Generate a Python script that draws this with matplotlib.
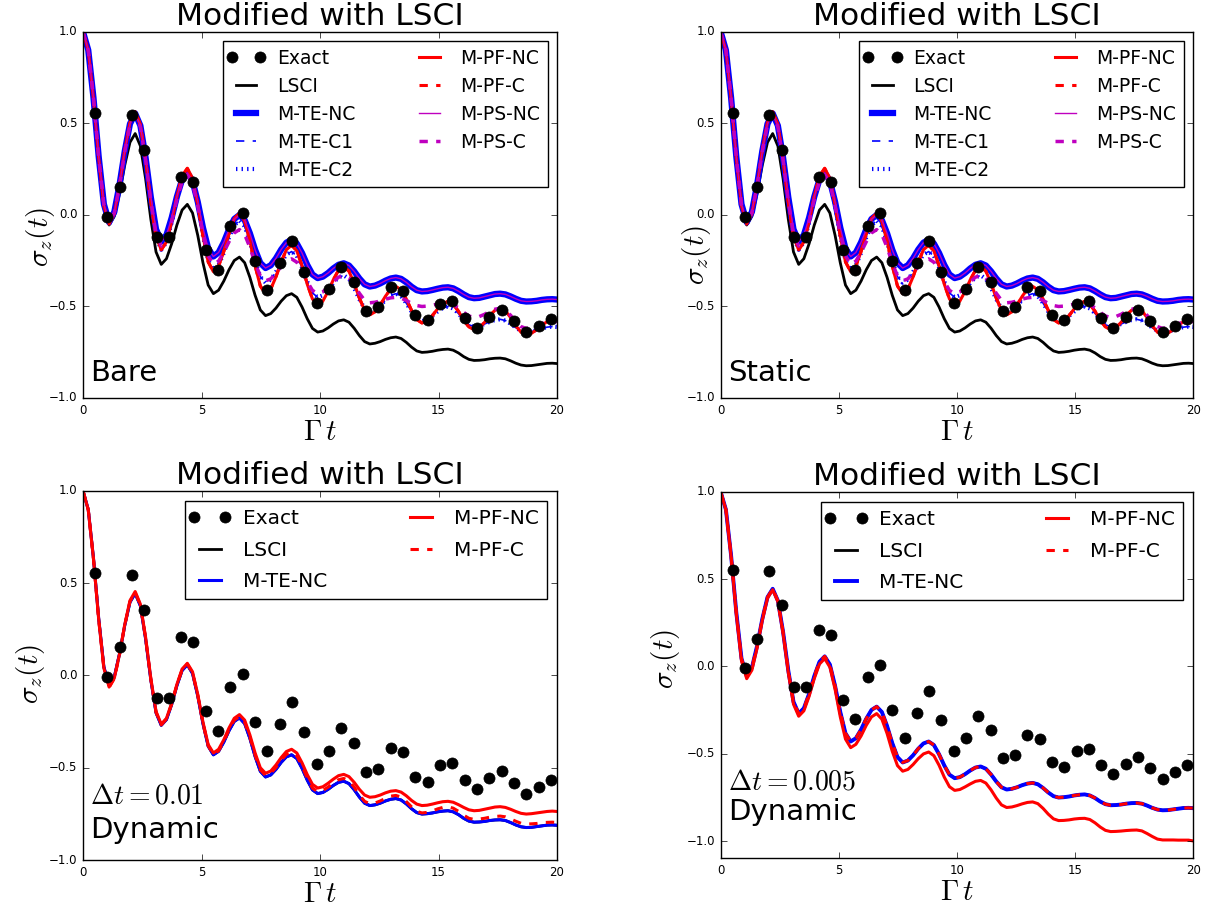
import numpy as np
import matplotlib
matplotlib.use("Agg")
import matplotlib.pyplot as plt
from matplotlib.lines import Line2D
from matplotlib.legend_handler import HandlerLine2D

# ================= DATA ================= #
# sampling grid of the curves (Gamma t)
t_grid = np.append(np.arange(91) * 0.22, 20.0)

# exact points
t_exact = [0.50, 1.02, 1.54, 2.06, 2.58, 3.10, 3.62, 4.14, 4.66, 5.18,
           5.70, 6.22, 6.74, 7.26, 7.78, 8.30, 8.82, 9.34, 9.86, 10.38,
           10.90, 11.42, 11.94, 12.46, 12.98, 13.50, 14.02, 14.54, 15.06, 15.58,
           16.10, 16.62, 17.14, 17.66, 18.18, 18.70, 19.22, 19.74]
exact = [0.555, -0.010, 0.155, 0.545, 0.355, -0.120, -0.120, 0.210, 0.180, -0.190,
         -0.300, -0.060, 0.010, -0.250, -0.410, -0.264, -0.142, -0.309, -0.482, -0.407,
         -0.282, -0.366, -0.525, -0.505, -0.393, -0.416, -0.549, -0.576, -0.487, -0.472,
         -0.565, -0.616, -0.556, -0.520, -0.582, -0.642, -0.607, -0.567]

lsci = [1.0, 0.899, 0.636, 0.310, 0.046, -0.055,
        -0.007, 0.118, 0.272, 0.397, 0.445,
        0.377, 0.198, -0.023, -0.202, -0.270,
        -0.239, -0.157, -0.055, 0.027, 0.058,
        0.011, -0.111, -0.261, -0.383, -0.430,
        -0.411, -0.361, -0.299, -0.249, -0.230,
        -0.261, -0.341, -0.439, -0.519, -0.550,
        -0.539, -0.509, -0.471, -0.441, -0.430,
        -0.450, -0.503, -0.567, -0.620, -0.640,
        -0.634, -0.617, -0.596, -0.579, -0.573,
        -0.586, -0.619, -0.659, -0.692, -0.705,
        -0.701, -0.692, -0.680, -0.671, -0.667,
        -0.675, -0.696, -0.722, -0.743, -0.751,
        -0.749, -0.745, -0.739, -0.735, -0.733,
        -0.739, -0.754, -0.774, -0.789, -0.795,
        -0.794, -0.791, -0.786, -0.783, -0.782,
        -0.786, -0.797, -0.810, -0.820, -0.824,
        -0.823, -0.819, -0.815, -0.811, -0.810,
        -0.812]

# Bare / Static panels
te_nc = [1.0, 0.901, 0.641, 0.319, 0.059, -0.040,
         0.017, 0.166, 0.349, 0.498, 0.555,
         0.488, 0.313, 0.097, -0.078, -0.145,
         -0.109, -0.015, 0.100, 0.194, 0.230,
         0.186, 0.072, -0.069, -0.183, -0.227,
         -0.205, -0.149, -0.078, -0.022, 0.000,
         -0.028, -0.100, -0.190, -0.262, -0.290,
         -0.275, -0.237, -0.189, -0.151, -0.136,
         -0.156, -0.208, -0.273, -0.325, -0.345,
         -0.337, -0.317, -0.292, -0.272, -0.264,
         -0.276, -0.308, -0.347, -0.379, -0.391,
         -0.386, -0.374, -0.359, -0.347, -0.342,
         -0.349, -0.368, -0.392, -0.411, -0.418,
         -0.416, -0.410, -0.403, -0.397, -0.395,
         -0.401, -0.416, -0.434, -0.449, -0.455,
         -0.453, -0.446, -0.439, -0.432, -0.430,
         -0.434, -0.445, -0.458, -0.469, -0.473,
         -0.472, -0.469, -0.464, -0.461, -0.460,
         -0.462]

pf_nc = [1.0, 0.900, 0.637, 0.313, 0.050, -0.050,
         0.009, 0.162, 0.353, 0.506, 0.565,
         0.493, 0.304, 0.071, -0.118, -0.190,
         -0.148, -0.036, 0.101, 0.213, 0.255,
         0.201, 0.060, -0.115, -0.256, -0.310,
         -0.279, -0.199, -0.101, -0.021, 0.010,
         -0.032, -0.142, -0.278, -0.388, -0.430,
         -0.405, -0.338, -0.257, -0.190, -0.165,
         -0.196, -0.277, -0.378, -0.459, -0.490,
         -0.470, -0.418, -0.354, -0.302, -0.282,
         -0.307, -0.373, -0.454, -0.520, -0.545,
         -0.530, -0.491, -0.444, -0.405, -0.390,
         -0.409, -0.459, -0.521, -0.571, -0.590,
         -0.579, -0.550, -0.513, -0.484, -0.473,
         -0.488, -0.526, -0.574, -0.612, -0.627,
         -0.616, -0.587, -0.550, -0.521, -0.510,
         -0.524, -0.560, -0.605, -0.641, -0.655,
         -0.647, -0.627, -0.603, -0.583, -0.575,
         -0.576]

te_c = [1.0, 0.900, 0.637, 0.313, 0.050, -0.050,
        0.008, 0.161, 0.349, 0.502, 0.560,
        0.488, 0.301, 0.069, -0.118, -0.190,
        -0.149, -0.041, 0.091, 0.199, 0.240,
        0.188, 0.053, -0.113, -0.248, -0.300,
        -0.274, -0.207, -0.123, -0.056, -0.030,
        -0.062, -0.147, -0.252, -0.337, -0.370,
        -0.354, -0.311, -0.259, -0.216, -0.200,
        -0.224, -0.286, -0.364, -0.426, -0.450,
        -0.439, -0.409, -0.371, -0.341, -0.330,
        -0.349, -0.399, -0.461, -0.511, -0.530,
        -0.520, -0.495, -0.465, -0.440, -0.430,
        -0.444, -0.482, -0.528, -0.566, -0.580,
        -0.572, -0.552, -0.528, -0.508, -0.500,
        -0.511, -0.538, -0.572, -0.600, -0.610,
        -0.606, -0.596, -0.584, -0.574, -0.570,
        -0.577, -0.594, -0.616, -0.633, -0.640,
        -0.637, -0.630, -0.620, -0.613, -0.610,
        -0.612]

ps_c = [1.0, 0.900, 0.639, 0.316, 0.055, -0.045,
        0.012, 0.161, 0.344, 0.493, 0.550,
        0.481, 0.301, 0.079, -0.101, -0.170,
        -0.133, -0.035, 0.085, 0.183, 0.220,
        0.173, 0.051, -0.101, -0.223, -0.270,
        -0.252, -0.204, -0.146, -0.098, -0.080,
        -0.107, -0.177, -0.263, -0.333, -0.360,
        -0.349, -0.319, -0.281, -0.251, -0.240,
        -0.258, -0.306, -0.364, -0.412, -0.430,
        -0.420, -0.395, -0.365, -0.340, -0.330,
        -0.344, -0.382, -0.428, -0.466, -0.480,
        -0.477, -0.470, -0.460, -0.453, -0.450,
        -0.455, -0.467, -0.483, -0.495, -0.500,
        -0.498, -0.493, -0.487, -0.482, -0.480,
        -0.488, -0.508, -0.532, -0.552, -0.560,
        -0.555, -0.543, -0.527, -0.515, -0.510,
        -0.521, -0.548, -0.582, -0.610, -0.620,
        -0.616, -0.606, -0.594, -0.584, -0.580,
        -0.583]

# Dynamic, dt = 0.01
pf_nc_dt01 = [1.0, 0.898, 0.633, 0.304, 0.039, -0.063,
              -0.014, 0.116, 0.276, 0.406, 0.455,
              0.386, 0.207, -0.016, -0.195, -0.264,
              -0.232, -0.150, -0.048, 0.035, 0.066,
              0.020, -0.102, -0.252, -0.374, -0.420,
              -0.400, -0.348, -0.284, -0.232, -0.212,
              -0.242, -0.322, -0.420, -0.500, -0.530,
              -0.518, -0.485, -0.445, -0.412, -0.400,
              -0.420, -0.473, -0.537, -0.590, -0.610,
              -0.603, -0.584, -0.562, -0.543, -0.536,
              -0.548, -0.579, -0.617, -0.648, -0.660,
              -0.657, -0.648, -0.636, -0.627, -0.624,
              -0.632, -0.652, -0.677, -0.697, -0.705,
              -0.703, -0.697, -0.690, -0.684, -0.682,
              -0.687, -0.700, -0.715, -0.728, -0.733,
              -0.731, -0.725, -0.719, -0.713, -0.711,
              -0.715, -0.725, -0.737, -0.747, -0.751,
              -0.749, -0.745, -0.741, -0.737, -0.735,
              -0.737]

pf_c_dt01 = [1.0, 0.898, 0.632, 0.303, 0.037, -0.065,
             -0.016, 0.113, 0.272, 0.401, 0.450,
             0.381, 0.202, -0.020, -0.199, -0.268,
             -0.236, -0.154, -0.052, 0.031, 0.062,
             0.015, -0.107, -0.259, -0.381, -0.428,
             -0.408, -0.357, -0.293, -0.242, -0.222,
             -0.253, -0.333, -0.431, -0.511, -0.542,
             -0.530, -0.498, -0.459, -0.427, -0.415,
             -0.436, -0.489, -0.556, -0.610, -0.630,
             -0.623, -0.605, -0.583, -0.565, -0.558,
             -0.571, -0.605, -0.648, -0.682, -0.695,
             -0.691, -0.680, -0.666, -0.654, -0.650,
             -0.659, -0.683, -0.712, -0.736, -0.745,
             -0.742, -0.734, -0.723, -0.715, -0.712,
             -0.719, -0.736, -0.757, -0.774, -0.780,
             -0.778, -0.774, -0.768, -0.764, -0.762,
             -0.766, -0.777, -0.790, -0.801, -0.805,
             -0.804, -0.802, -0.798, -0.796, -0.795,
             -0.797]

# Dynamic, dt = 0.005
pf_nc_dt005 = [1.0, 0.898, 0.630, 0.300, 0.032, -0.070,
               -0.021, 0.106, 0.264, 0.391, 0.440,
               0.371, 0.190, -0.035, -0.216, -0.285,
               -0.254, -0.171, -0.069, 0.014, 0.045,
               -0.004, -0.131, -0.289, -0.416, -0.465,
               -0.446, -0.398, -0.337, -0.289, -0.270,
               -0.302, -0.384, -0.486, -0.568, -0.600,
               -0.590, -0.562, -0.528, -0.501, -0.490,
               -0.511, -0.566, -0.634, -0.689, -0.710,
               -0.705, -0.690, -0.673, -0.658, -0.653,
               -0.668, -0.707, -0.754, -0.793, -0.808,
               -0.805, -0.797, -0.787, -0.779, -0.776,
               -0.786, -0.813, -0.846, -0.873, -0.883,
               -0.882, -0.879, -0.874, -0.871, -0.870,
               -0.877, -0.896, -0.920, -0.939, -0.946,
               -0.945, -0.943, -0.940, -0.938, -0.937,
               -0.942, -0.957, -0.974, -0.989, -0.994,
               -0.994, -0.994, -0.995, -0.995, -0.995,
               -1.000]

# ================= STYLE ================= #
plt.style.use("classic")
plt.rcParams["figure.facecolor"] = "white"
plt.rcParams["savefig.facecolor"] = "white"
plt.rcParams["mathtext.fontset"] = "cm"

fig = plt.figure(figsize=(12.07, 9.09), dpi=100)

ax_tl = fig.add_axes([0.0688, 0.5622, 0.3927, 0.4026])
ax_tr = fig.add_axes([0.5971, 0.5622, 0.3916, 0.4026])
ax_bl = fig.add_axes([0.0688, 0.0539, 0.3927, 0.4060])
ax_br = fig.add_axes([0.5971, 0.0556, 0.3916, 0.4032])


def style_axes(ax, ylim, ylab_xy):
    ax.set_xlim(0, 20)
    ax.set_ylim(*ylim)
    ax.set_xticks([0, 5, 10, 15, 20])
    ax.set_yticks([-1.0, -0.5, 0.0, 0.5, 1.0])
    ax.tick_params(labelsize=8.5)
    ax.set_title("Modified with LSCI", fontsize=22.5, y=1.0)
    ax.set_xlabel(r"$\Gamma\,t$", fontsize=21, labelpad=1)
    ax.set_ylabel(r"$\sigma_z(t)$", fontsize=21)
    ax.yaxis.set_label_coords(*ylab_xy)


def add_legend(ax, fsize, lspace, cspace):
    h, l = ax.get_legend_handles_labels()
    # exact points first, shown as two separate dots
    dots = Line2D([], [], linestyle="none", linewidth=0, marker="o", color="k",
                  mec="k", ms=8)
    h = [dots] + h[:-1]
    l = [l[-1]] + l[:-1]
    leg = ax.legend(h, l, loc="upper right", ncol=2, fontsize=fsize, numpoints=2,
                    handlelength=1.7, labelspacing=lspace, columnspacing=cspace,
                    fancybox=False, framealpha=1,
                    handler_map={dots: HandlerLine2D(marker_pad=0.08, numpoints=2)})
    leg.set_zorder(20)


# ================= TOP PANELS ================= #
for ax, tag, ylab_xy in [(ax_tl, "Bare", (-0.055, 0.44)), (ax_tr, "Static", (-0.016, 0.39))]:
    ax.plot(t_grid, lsci, "k-", lw=2, label="LSCI")
    ax.plot(t_grid, te_nc, "b-", lw=4.5, label="M-TE-NC")
    ax.plot(t_grid, te_c, "b--", lw=1.2, label="M-TE-C1")
    ax.plot(t_grid, te_c, "b:", lw=3, label="M-TE-C2")
    ax.plot(t_grid, pf_nc, "r-", lw=2.2, label="M-PF-NC")
    ax.plot(t_grid, pf_nc, "r--", lw=2.2, label="M-PF-C")
    ax.plot(t_grid, te_nc, "m-", lw=1, label="M-PS-NC")
    ax.plot(t_grid, ps_c, "m--", lw=2.5, label="M-PS-C")
    ax.plot(t_exact, exact, linestyle="none", marker="o", color="k", mec="k", ms=8,
            label="Exact", zorder=4)
    style_axes(ax, (-1.0, 1.0), ylab_xy)
    add_legend(ax, 13.5, 0.48, 3.1)
    ax.text(0.015, 0.045, tag, transform=ax.transAxes, fontsize=21)

# ================= BOTTOM PANELS ================= #
panels = [(ax_bl, pf_nc_dt01, pf_c_dt01, r"$\Delta t=0.01$", (-1.0, 1.0), 2.2,
           0.152, 0.06, (-0.076, 0.505)),
          (ax_br, pf_nc_dt005, lsci, r"$\Delta t=0.005$", (-1.1, 1.0), 2.8,
           0.187, 0.105, (-0.082, 0.545))]
for ax, pfnc, pfc, dt_text, ylim, te_lw, y_dt, y_dyn, ylab_xy in panels:
    ax.plot(t_grid, lsci, "k-", lw=2, label="LSCI")
    ax.plot(t_grid, lsci, "b-", lw=te_lw, label="M-TE-NC")
    ax.plot(t_grid, pfnc, "r-", lw=2.2, label="M-PF-NC")
    ax.plot(t_grid, pfc, "r--", lw=2.2, label="M-PF-C")
    ax.plot(t_exact, exact, linestyle="none", marker="o", color="k", mec="k", ms=8,
            label="Exact", zorder=4)
    style_axes(ax, ylim, ylab_xy)
    add_legend(ax, 14.5, 0.62, 3.8)
    ax.text(0.015, y_dt, dt_text, transform=ax.transAxes, fontsize=20)
    ax.text(0.015, y_dyn, "Dynamic", transform=ax.transAxes, fontsize=21)

fig.savefig("out.png", dpi=100)
